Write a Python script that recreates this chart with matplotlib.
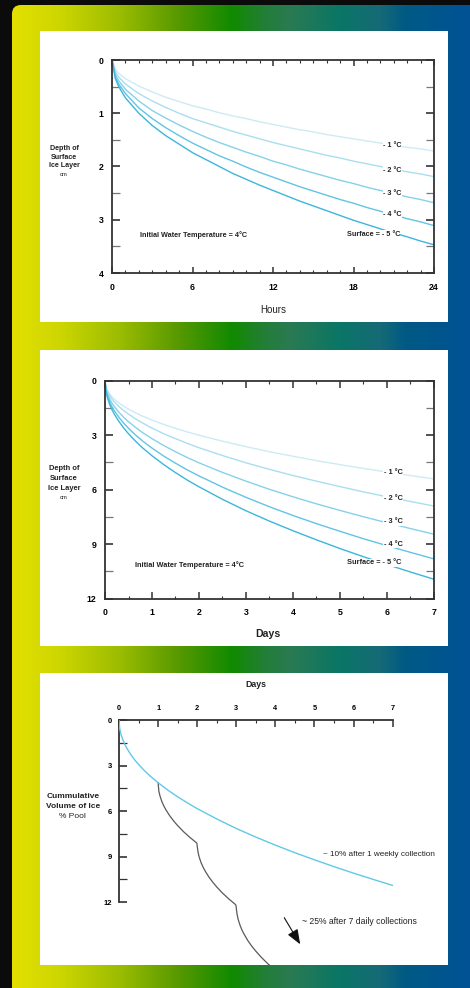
import numpy as np
import matplotlib
matplotlib.use('Agg')
import matplotlib.pyplot as plt
from matplotlib.patches import Rectangle, FancyBboxPatch
from matplotlib.ticker import MultipleLocator

plt.rcParams['font.family'] = ['Liberation Sans', 'DejaVu Sans']

# ---------------- data ----------------
hours = [0, 0.25, 0.5, 1, 2, 3, 4, 5, 6, 7, 8, 9, 10, 11, 12, 13, 14, 15, 16, 17, 18, 19, 20, 21, 22, 23, 24]
ice_h_m1 = [0, 0.17, 0.25, 0.35, 0.49, 0.60, 0.70, 0.78, 0.86, 0.92, 0.99, 1.05, 1.10, 1.16, 1.21, 1.26, 1.31, 1.35, 1.40, 1.44, 1.48, 1.52, 1.56, 1.60, 1.64, 1.67, 1.71]
ice_h_m2 = [0, 0.22, 0.32, 0.45, 0.63, 0.77, 0.89, 1.00, 1.10, 1.18, 1.26, 1.34, 1.41, 1.48, 1.55, 1.61, 1.67, 1.73, 1.79, 1.84, 1.90, 1.95, 2.00, 2.05, 2.10, 2.14, 2.19]
ice_h_m3 = [0, 0.27, 0.39, 0.55, 0.77, 0.95, 1.09, 1.22, 1.34, 1.45, 1.55, 1.64, 1.73, 1.81, 1.90, 1.97, 2.05, 2.12, 2.19, 2.26, 2.32, 2.39, 2.45, 2.51, 2.57, 2.62, 2.68]
ice_h_m4 = [0, 0.32, 0.45, 0.63, 0.90, 1.10, 1.27, 1.42, 1.56, 1.68, 1.80, 1.90, 2.01, 2.11, 2.20, 2.29, 2.38, 2.46, 2.54, 2.62, 2.69, 2.77, 2.84, 2.91, 2.98, 3.04, 3.11]
ice_h_m5 = [0, 0.35, 0.50, 0.71, 1.00, 1.23, 1.42, 1.58, 1.74, 1.87, 2.00, 2.13, 2.24, 2.35, 2.45, 2.55, 2.65, 2.74, 2.83, 2.92, 3.01, 3.09, 3.17, 3.25, 3.32, 3.40, 3.47]

days = [0, 0.02, 0.05, 0.1, 0.15, 0.2, 0.3, 0.4, 0.5, 0.65, 0.8, 1.0, 1.25, 1.5, 1.75, 2, 2.5, 3, 3.5, 4, 4.5, 5, 5.5, 6, 6.5, 7]
ice_d_m1 = [0, 0.34, 0.53, 0.73, 0.89, 1.02, 1.23, 1.41, 1.57, 1.77, 1.95, 2.17, 2.41, 2.62, 2.82, 3.00, 3.33, 3.63, 3.91, 4.16, 4.40, 4.62, 4.83, 5.03, 5.22, 5.41]
ice_d_m2 = [0, 0.37, 0.58, 0.82, 1.01, 1.17, 1.43, 1.65, 1.84, 2.10, 2.33, 2.61, 2.92, 3.19, 3.45, 3.69, 4.12, 4.52, 4.88, 5.22, 5.53, 5.83, 6.12, 6.39, 6.65, 6.90]
ice_d_m3 = [0, 0.45, 0.71, 1.01, 1.24, 1.43, 1.75, 2.02, 2.26, 2.57, 2.86, 3.19, 3.57, 3.91, 4.23, 4.52, 5.05, 5.53, 5.98, 6.39, 6.78, 7.14, 7.49, 7.82, 8.14, 8.45]
ice_d_m4 = [0, 0.52, 0.83, 1.17, 1.44, 1.66, 2.03, 2.34, 2.62, 2.99, 3.32, 3.71, 4.15, 4.54, 4.91, 5.24, 5.86, 6.42, 6.94, 7.42, 7.87, 8.29, 8.70, 9.08, 9.45, 9.81]
ice_d_m5 = [0, 0.58, 0.92, 1.31, 1.60, 1.85, 2.26, 2.61, 2.92, 3.33, 3.70, 4.13, 4.62, 5.06, 5.47, 5.84, 6.53, 7.16, 7.73, 8.26, 8.76, 9.24, 9.69, 10.12, 10.53, 10.93]

temp_labels = ['- 1 °C', '- 2 °C', '- 3 °C', '- 4 °C', 'Surface = - 5 °C']

weekly_days = [0, 0.02, 0.05, 0.1, 0.15, 0.2, 0.3, 0.4, 0.5, 0.65, 0.8, 1.0, 1.25, 1.5, 1.75, 2, 2.5, 3, 3.5, 4, 4.5, 5, 5.5, 6, 6.5, 7]
weekly_volume = [0, 0.58, 0.92, 1.30, 1.60, 1.84, 2.26, 2.61, 2.91, 3.32, 3.69, 4.12, 4.61, 5.05, 5.45, 5.83, 6.51, 7.14, 7.71, 8.24, 8.74, 9.21, 9.66, 10.09, 10.50, 10.90]

daily_days = [1, 1.02, 1.05, 1.1, 1.15, 1.2, 1.3, 1.4, 1.5, 1.65, 1.8, 1.97,
              1.99, 2.02, 2.05, 2.1, 2.15, 2.2, 2.3, 2.4, 2.5, 2.65, 2.8, 2.97,
              2.99, 3.02, 3.05, 3.1, 3.15, 3.2, 3.3, 3.4, 3.5, 3.65, 3.8, 3.9]
daily_volume = [4.12, 4.69, 5.01, 5.39, 5.67, 5.91, 6.31, 6.65, 6.95, 7.35, 7.70, 8.06,
                8.10, 8.68, 9.02, 9.40, 9.69, 9.93, 10.35, 10.69, 11.00, 11.41, 11.77, 12.14,
                12.20, 12.81, 13.16, 13.56, 13.87, 14.12, 14.56, 14.92, 15.24, 15.67, 16.05, 16.28]

hour_ticks = [0, 6, 12, 18, 24]
depth_ticks_h = [0, 1, 2, 3, 4]
day_ticks = [0, 1, 2, 3, 4, 5, 6, 7]
depth_ticks_d = [0, 3, 6, 9, 12]

curve_colors = ['#cdebf4', '#a9def0', '#86d1ea', '#62c4e3', '#3cb6dc']

W, H = 470, 988
fig = plt.figure(figsize=(W / 100, H / 100), dpi=100)
fig.patch.set_facecolor('#0b0b0b')

# ---------------- background ----------------
bg = fig.add_axes([0, 0, 1, 1], zorder=-10)
bg.set_xlim(0, W)
bg.set_ylim(H, 0)
bg.axis('off')
stops_x = [12, 60, 120, 180, 232, 265, 290, 340, 380, 405, 470]
stops_rgb = np.array([(228, 224, 0), (205, 214, 0), (155, 188, 0), (85, 152, 0), (17, 138, 0),
                      (35, 126, 55), (42, 122, 82), (10, 118, 102), (22, 106, 118),
                      (0, 90, 132), (0, 82, 150)]) / 255.0
xs = np.arange(12, W) + 0.5
img = np.stack([np.interp(xs, stops_x, stops_rgb[:, k]) for k in range(3)], axis=-1)[None, :, :]
im = bg.imshow(img, extent=(12, W, H + 5, 5), aspect='auto', interpolation='bilinear', zorder=0)
clip = FancyBboxPatch((12, 5), W, H + 20, boxstyle='round,pad=0,rounding_size=9',
                      transform=bg.transData, facecolor='none', edgecolor='none')
bg.add_patch(clip)
im.set_clip_path(clip)

for (x0, y0, w, h) in [(40, 31, 408, 291), (40, 350, 408, 296), (40, 673, 408, 292)]:
    bg.add_patch(Rectangle((x0, y0), w, h, facecolor='white', edgecolor='none', zorder=1))


def px_axes(l, t, r, b):
    return fig.add_axes([l / W, 1 - b / H, (r - l) / W, (b - t) / H])


def style_box(ax):
    ax.set_facecolor('none')
    for s in ax.spines.values():
        s.set_linewidth(1.3)
        s.set_color('#333333')


def lab_kw(fs):
    return dict(fontsize=fs, fontweight='bold', color='#222222', va='center',
                bbox=dict(facecolor='white', edgecolor='none', pad=0.4), zorder=5)


# ---------------- panel 1 : hours ----------------
ax1 = px_axes(112, 60, 434, 273)
style_box(ax1)
for ys, c in zip([ice_h_m1, ice_h_m2, ice_h_m3, ice_h_m4, ice_h_m5], curve_colors):
    ax1.plot(hours, ys, color=c, lw=1.0, zorder=2)
ax1.set_xlim(0, 24)
ax1.set_ylim(4, 0)
ax1.set_xticks(hour_ticks, [str(v) for v in hour_ticks], fontsize=6.3, fontweight='bold')
ax1.set_yticks(depth_ticks_h, [str(v) for v in depth_ticks_h], fontsize=6.3, fontweight='bold')
ax1.xaxis.set_minor_locator(MultipleLocator(1))
ax1.yaxis.set_minor_locator(MultipleLocator(0.5))
ax1.tick_params(which='both', direction='in', top=True, right=True, color='#333333')
ax1.tick_params(axis='x', which='major', length=4.5, width=1.1, pad=7)
ax1.tick_params(axis='x', which='minor', length=2.2, width=0.8)
ax1.tick_params(axis='y', which='major', length=6, width=1.2, pad=6)
ax1.tick_params(axis='y', which='minor', length=5.5, width=0.9, color='#777777')
ax1.text(20.9, 1.60, temp_labels[0], ha='center', **lab_kw(5.2))
ax1.text(20.9, 2.07, temp_labels[1], ha='center', **lab_kw(5.2))
ax1.text(20.9, 2.50, temp_labels[2], ha='center', **lab_kw(5.2))
ax1.text(20.9, 2.91, temp_labels[3], ha='center', **lab_kw(5.2))
ax1.text(21.46, 3.27, temp_labels[4], ha='right', **lab_kw(5.2))
ax1.text(2.09, 3.29, 'Initial Water Temperature = 4°C', ha='left', **lab_kw(5.2))

bg.text(273, 310, 'Hours', fontsize=7.0, ha='center', va='center', color='#222222', zorder=5)
for txt, yy, wt, fs in [('Depth of', 148.7, 'bold', 5.1), ('Surface', 157.3, 'bold', 5.1),
                         ('Ice Layer', 165.7, 'bold', 5.1), ('cm', 174, 'normal', 4.2)]:
    bg.text(64, yy, txt, fontsize=fs, fontweight=wt, ha='center', va='center', color='#222222', zorder=5)

# ---------------- panel 2 : days ----------------
ax2 = px_axes(105, 380.7, 434, 598.7)
style_box(ax2)
for ys, c in zip([ice_d_m1, ice_d_m2, ice_d_m3, ice_d_m4, ice_d_m5], curve_colors):
    ax2.plot(days, ys, color=c, lw=1.0, zorder=2)
ax2.set_xlim(0, 7)
ax2.set_ylim(12, 0)
ax2.set_xticks(day_ticks, [str(v) for v in day_ticks], fontsize=6.3, fontweight='bold')
ax2.set_yticks(depth_ticks_d, [str(v) for v in depth_ticks_d], fontsize=6.3, fontweight='bold')
ax2.xaxis.set_minor_locator(MultipleLocator(0.5))
ax2.yaxis.set_minor_locator(MultipleLocator(1.5))
ax2.tick_params(which='both', direction='in', top=True, right=True, color='#333333')
ax2.tick_params(axis='x', which='major', length=5, width=1.1, pad=7)
ax2.tick_params(axis='x', which='minor', length=2.2, width=0.8)
ax2.tick_params(axis='y', which='major', length=6, width=1.2, pad=6)
ax2.tick_params(axis='y', which='minor', length=5.5, width=0.9, color='#777777')
ax2.text(6.13, 5.08, temp_labels[0], ha='center', **lab_kw(5.3))
ax2.text(6.13, 6.49, temp_labels[1], ha='center', **lab_kw(5.3))
ax2.text(6.13, 7.76, temp_labels[2], ha='center', **lab_kw(5.3))
ax2.text(6.13, 8.99, temp_labels[3], ha='center', **lab_kw(5.3))
ax2.text(6.30, 10.03, temp_labels[4], ha='right', **lab_kw(5.3))
ax2.text(0.64, 10.14, 'Initial Water Temperature = 4°C', ha='left', **lab_kw(5.3))

bg.text(268, 634, 'Days', fontsize=7.6, fontweight='bold', ha='center', va='center', color='#222222', zorder=5)
for txt, yy, wt, fs in [('Depth of', 468.7, 'bold', 5.4), ('Surface', 478.3, 'bold', 5.4),
                         ('Ice Layer', 488, 'bold', 5.4), ('cm', 497.7, 'normal', 4.2)]:
    bg.text(64, yy, txt, fontsize=fs, fontweight=wt, ha='center', va='center', color='#222222', zorder=5)

# ---------------- panel 3 : cumulative volume ----------------
ax3 = px_axes(119, 720.3, 392.7, 965)
ax3.set_facecolor('none')
ax3.plot(weekly_days, weekly_volume, color='#62c8e6', lw=1.0, zorder=3)
ax3.plot(daily_days, daily_volume, color='#5a5a5a', lw=0.9, zorder=2)
ax3.set_xlim(0, 7)
ax3.set_ylim(16.15, 0)
ax3.spines['right'].set_visible(False)
ax3.spines['bottom'].set_visible(False)
for s in ['top', 'left']:
    ax3.spines[s].set_linewidth(1.3)
    ax3.spines[s].set_color('#333333')
ax3.spines['left'].set_bounds(0, 12)
ax3.xaxis.tick_top()
ax3.set_xticks(day_ticks, [str(v) for v in day_ticks], fontsize=5.3, fontweight='bold')
ax3.set_xticks([v + 0.5 for v in day_ticks[:-1]], minor=True)
ax3.set_yticks(depth_ticks_d, [str(v) for v in depth_ticks_d], fontsize=5.5, fontweight='bold')
ax3.set_yticks([1.5, 4.5, 7.5, 10.5], minor=True)
ax3.tick_params(which='both', direction='in', color='#333333')
ax3.tick_params(axis='x', which='major', length=5, width=1.1, pad=6)
ax3.tick_params(axis='x', which='minor', length=2.5, width=0.8)
ax3.tick_params(axis='y', which='major', length=6, width=1.2, pad=5)
ax3.tick_params(axis='y', which='minor', length=6, width=0.9)

ax3.text(5.21, 8.87, '~ 10% after 1 weekly collection', fontsize=5.9, ha='left', va='center',
         color='#222222', clip_on=False, zorder=5)
ax3.text(4.67, 13.25, '~ 25% after 7 daily collections', fontsize=6.2, ha='left', va='center',
         color='#222222', clip_on=False, zorder=5)
ax3.annotate('', xy=(4.67, 14.94), xytext=(4.19, 12.87),
             arrowprops=dict(arrowstyle='-|>,head_length=0.9,head_width=0.35', color='#111111', lw=0.8),
             annotation_clip=False)

bg.text(255.7, 684, 'Days', fontsize=6.3, fontweight='bold', ha='center', va='center', color='#222222', zorder=5)
for txt, yy, wt in [('Cummulative', 796.7, 'bold'), ('Volume of Ice', 806.7, 'bold'), ('% Pool', 816.3, 'normal')]:
    bg.text(72.7, yy, txt, fontsize=6.0, fontweight=wt, ha='center', va='center', color='#222222', zorder=5)

fig.savefig('out.png', dpi=100, facecolor=fig.get_facecolor())
